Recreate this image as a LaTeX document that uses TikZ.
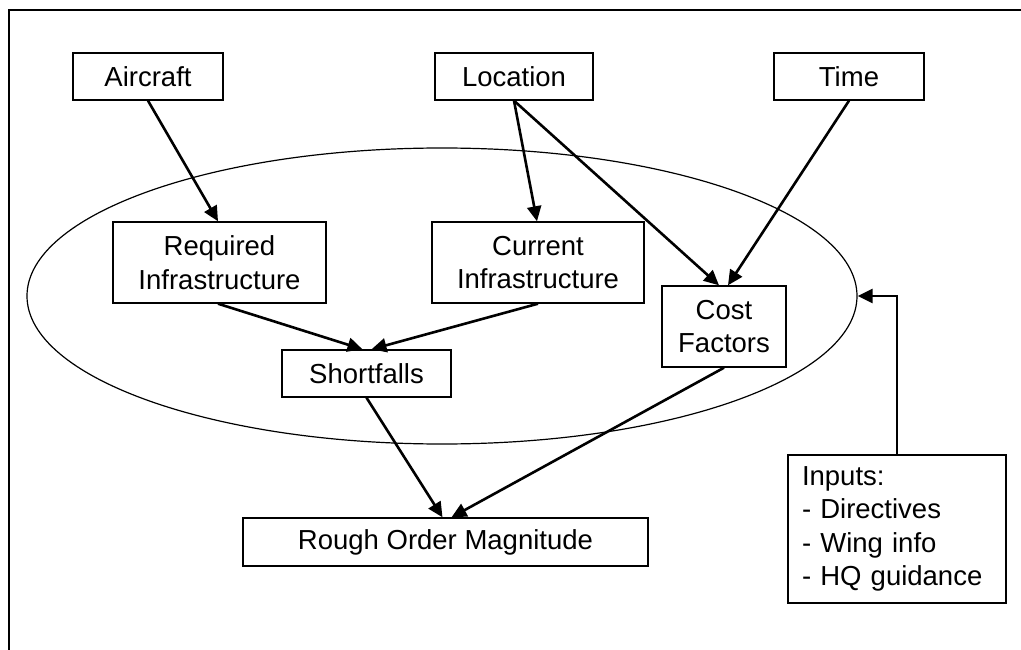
\documentclass[tikz,border=0pt]{standalone}
\usepackage{fontspec}
\setmainfont{Liberation Sans}
\usetikzlibrary{arrows.meta,shapes.geometric}

\tikzset{
  every node/.style={font=\fontsize{27.5}{33.5}\selectfont, inner sep=0pt},
  box/.style={draw, line width=1.4pt, fill=white, align=center},
  link/.style={line width=2.6pt, -{Triangle[length=15pt,width=14pt]}},
  zone/.style={draw, ellipse, line width=1.2pt},
  frame/.style={line width=1.4pt}
}

\begin{document}
\begin{tikzpicture}[x=1pt, y=-1pt]
  \useasboundingbox (0,0) rectangle (1021,650);

  % outer frame (open towards right and bottom)
  \draw[frame] (9,650) -- (9,10) -- (1021,10);

  % processing region
  \node[zone, minimum width=830pt, minimum height=296pt] (region) at (442,296) {};

  % boxes
  \node[box, minimum width=150pt, minimum height=47pt] (air)   at (148,76.5)   {Aircraft};
  \node[box, minimum width=158pt, minimum height=47pt] (loc)   at (514,76.5)   {Location};
  \node[box, minimum width=150pt, minimum height=47pt] (time)  at (849,76.5)   {Time};
  \node[box, minimum width=213pt, minimum height=81pt] (req)   at (219.5,262.5) {Required\\Infrastructure};
  \node[box, minimum width=212pt, minimum height=81pt] (cur)   at (538,262.5)  {Current\\Infrastructure};
  \node[box, minimum width=124pt, minimum height=81pt] (cost)  at (724,326.5)  {Cost\\Factors};
  \node[box, minimum width=169pt, minimum height=47pt] (short) at (366.5,373.5) {Shortfalls};
  \node[box, minimum width=405pt, minimum height=48pt] (rom)   at (445.5,542)  {Rough Order Magnitude};
  \node[box, align=left, text width=190pt, inner xsep=14pt, minimum height=148pt] (inp) at (897,529)
    {Inputs:\\- Directives\\- Wing info\\- HQ guidance};

  % connectors
  \draw[link] (air.south) -- ([xshift=-1.5pt]req.north);
  \draw[link] (loc.south) -- ([xshift=-1pt]cur.north);
  \draw[link] (loc.south) -- ([xshift=-5pt]cost.north);
  \draw[link] (time.south) -- ([xshift=4pt]cost.north);
  \draw[link] ([xshift=-1.5pt]req.south) -- ([xshift=-4pt]short.north);
  \draw[link] (cur.south) -- ([xshift=5pt]short.north);
  \draw[link] (short.south) -- ([xshift=-3pt]rom.north);
  \draw[link] (cost.south) -- ([xshift=6pt]rom.north);
  \draw[link] (inp.north) |- (region.east);
\end{tikzpicture}
\end{document}
